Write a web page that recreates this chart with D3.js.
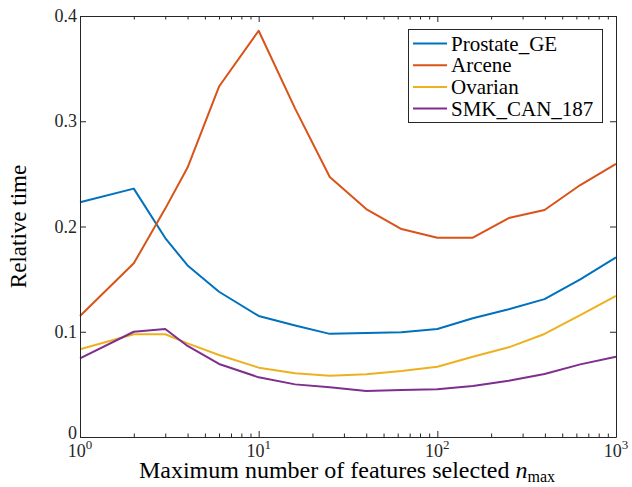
<!DOCTYPE html>
<html lang="en">
	<head>
		<meta charset="utf-8">
		<title>D3: Relative time</title>
		<script type="text/javascript" src="https://cdn.jsdelivr.net/npm/d3@7"></script>
		<style type="text/css">
		body { margin: 0; background: #fff; }
		svg { font-family: "Liberation Serif", "DejaVu Serif", serif; }
		.axis path, .axis line { stroke: #262626; }
		.axis text { fill: #262626; }
		</style>
	</head>
	<body>
		<script type="text/javascript">

		//Width and height
		var w = 632;
		var h = 487;

		//Data
		var features = [1, 2, 3, 4, 6, 10, 16, 25, 40, 63, 100, 158, 251, 398, 631, 1000];
		var prostate = [0.223, 0.236, 0.189, 0.163, 0.138, 0.115, 0.106, 0.098, 0.0988, 0.0995, 0.1026, 0.1128, 0.1213, 0.131, 0.1498, 0.1707];
		var arcene = [0.115, 0.165, 0.217, 0.256, 0.333, 0.386, 0.312, 0.247, 0.2166, 0.1976, 0.1894, 0.1894, 0.208, 0.2157, 0.2394, 0.2594];
		var ovarian = [0.0833, 0.0976, 0.0976, 0.089, 0.0779, 0.0659, 0.0605, 0.0583, 0.0596, 0.0627, 0.0668, 0.0763, 0.0852, 0.0979, 0.1159, 0.134];
		var smk = [0.0748, 0.1, 0.1026, 0.0865, 0.0694, 0.0567, 0.05, 0.0472, 0.0437, 0.0447, 0.0453, 0.0485, 0.0535, 0.0599, 0.069, 0.0763];
		var seriesNames = ["Prostate_GE", "Arcene", "Ovarian", "SMK_CAN_187"];
		var colors = ["#0072BD", "#D95319", "#EDB120", "#7E2F8E"];
		var yTicks = [0, 0.1, 0.2, 0.3, 0.4];
		var xMajor = [1, 10, 100, 1000];

		var series = [prostate, arcene, ovarian, smk];

		//Plot box
		var pLeft = 80, pRight = 616, pTop = 16, pBottom = 437;

		var x = d3.scaleLog().domain([1, 1000]).range([pLeft, pRight]);
		var y = d3.scaleLinear().domain([0, 0.4]).range([pBottom, pTop]);

		var xMinor = [];
		for (var d = 1; d < 1000; d *= 10) {
			for (var k = 2; k < 10; k++) xMinor.push(d * k);
		}

		var svg = d3.select("body")
					.append("svg")
					.attr("width", w)
					.attr("height", h);

		//Lines
		var line = d3.line()
			.x(function(d, i) { return x(features[i]); })
			.y(function(d) { return y(d); });

		svg.selectAll("path.series")
			.data(series)
			.enter()
			.append("path")
			.attr("class", "series")
			.attr("d", line)
			.attr("fill", "none")
			.attr("stroke", function(d, i) { return colors[i]; })
			.attr("stroke-width", 2)
			.attr("stroke-linejoin", "round");

		//Axes with inward ticks
		function noText(g) { g.selectAll("text").remove(); }

		svg.append("g").attr("class", "axis")
			.attr("transform", "translate(0," + pBottom + ")")
			.call(d3.axisBottom(x).tickValues(xMajor).tickSize(-6).tickSizeOuter(0).tickFormat(""))
			.call(noText);
		svg.append("g").attr("class", "axis")
			.attr("transform", "translate(0," + pBottom + ")")
			.call(d3.axisBottom(x).tickValues(xMinor).tickSize(-3.5).tickSizeOuter(0).tickFormat(""))
			.call(function(g) { g.select(".domain").remove(); noText(g); });
		svg.append("g").attr("class", "axis")
			.attr("transform", "translate(0," + pTop + ")")
			.call(d3.axisTop(x).tickValues(xMajor).tickSize(-6).tickSizeOuter(0).tickFormat(""))
			.call(noText);
		svg.append("g").attr("class", "axis")
			.attr("transform", "translate(0," + pTop + ")")
			.call(d3.axisTop(x).tickValues(xMinor).tickSize(-3.5).tickSizeOuter(0).tickFormat(""))
			.call(function(g) { g.select(".domain").remove(); noText(g); });

		svg.append("g").attr("class", "axis")
			.attr("transform", "translate(" + pLeft + ",0)")
			.call(d3.axisLeft(y).tickValues(yTicks).tickSize(-6).tickSizeOuter(0).tickFormat(""))
			.call(noText);
		svg.append("g").attr("class", "axis")
			.attr("transform", "translate(" + pRight + ",0)")
			.call(d3.axisRight(y).tickValues(yTicks).tickSize(-6).tickSizeOuter(0).tickFormat(""))
			.call(noText);

		//Y tick labels
		svg.selectAll("text.ylab")
			.data(yTicks)
			.enter()
			.append("text")
			.attr("class", "ylab")
			.attr("x", pLeft - 3)
			.attr("y", function(d) { return y(d) + (d === 0 ? 2 : 6); })
			.attr("text-anchor", "end")
			.attr("font-size", 18)
			.attr("fill", "#262626")
			.text(function(d) { return d === 0 ? "0" : d3.format(".1f")(d); });

		//X tick labels 10^k
		var xl = svg.selectAll("text.xlab")
			.data(xMajor)
			.enter()
			.append("text")
			.attr("class", "xlab")
			.attr("x", function(d) { return x(d); })
			.attr("y", pBottom + 20)
			.attr("text-anchor", "middle")
			.attr("font-size", 18)
			.attr("fill", "#262626");
		xl.append("tspan").text("10");
		xl.append("tspan")
			.attr("dy", -8)
			.attr("font-size", 13)
			.text(function(d) { return Math.round(Math.log10(d)); });

		//Axis titles
		var xt = svg.append("text")
			.attr("x", 347)
			.attr("y", 478)
			.attr("text-anchor", "middle")
			.attr("font-size", 24)
			.attr("fill", "#000");
		xt.append("tspan").text("Maximum number of features selected ");
		xt.append("tspan").attr("font-style", "italic").text("n");
		xt.append("tspan").attr("dy", 4).attr("font-size", 16).text("max");

		svg.append("text")
			.attr("transform", "translate(26," + ((pTop + pBottom) / 2) + ") rotate(-90)")
			.attr("text-anchor", "middle")
			.attr("font-size", 23)
			.attr("fill", "#000")
			.text("Relative time");

		//Legend
		var legend = svg.append("g");
		legend.append("rect")
			.attr("x", 408.5)
			.attr("y", 29.5)
			.attr("width", 194)
			.attr("height", 93)
			.attr("fill", "#fff")
			.attr("stroke", "#262626")
			.attr("stroke-width", 1);

		var items = legend.selectAll("g.item")
			.data(seriesNames)
			.enter()
			.append("g")
			.attr("class", "item")
			.attr("transform", function(d, i) { return "translate(0," + (43.5 + i * 21.7) + ")"; });
		items.append("line")
			.attr("x1", 413).attr("x2", 447)
			.attr("stroke", function(d, i) { return colors[i]; })
			.attr("stroke-width", 2);
		items.append("text")
			.attr("x", 451)
			.attr("y", 7)
			.attr("font-size", 21)
			.attr("fill", "#000")
			.text(function(d) { return d; });

		</script>
	</body>
</html>
